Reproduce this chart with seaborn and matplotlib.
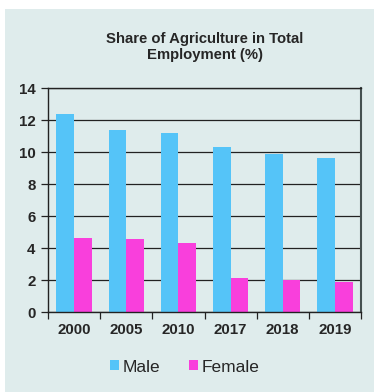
import matplotlib
matplotlib.use("Agg")
import matplotlib.pyplot as plt
import seaborn as sns
import pandas as pd
from matplotlib.patches import Rectangle
from matplotlib.ticker import FixedLocator

years = ["2000", "2005", "2010", "2017", "2018", "2019"]
male = [12.4, 11.4, 11.2, 10.3, 9.9, 9.6]
female = [4.65, 4.55, 4.3, 2.1, 2.0, 1.85]
series = ["Male", "Female"]
title = "Share of Agriculture in Total\nEmployment (%)"
yticks = [0, 2, 4, 6, 8, 10, 12, 14]

df = pd.DataFrame({
    "Year": years * 2,
    "Value": male + female,
    "Sex": [series[0]] * len(years) + [series[1]] * len(years),
})

sns.set_theme(style="white")
plt.rcParams['font.family'] = ['Liberation Sans', 'DejaVu Sans']

bg = "#DFECEC"
fig = plt.figure(figsize=(3.74, 3.92), dpi=100)
fig.patch.set_facecolor("white")
fig.patches.append(Rectangle((5 / 374, 0), 1, 1 - 9 / 392, transform=fig.transFigure,
                             facecolor=bg, edgecolor="none", zorder=-10))

ax = fig.add_axes([48 / 374, 1 - 312 / 392, (361 - 48) / 374, (312 - 88) / 392])
ax.set_facecolor(bg)

sns.barplot(data=df, x="Year", y="Value", hue="Sex", ax=ax,
            palette=["#55C4F8", "#F93FDC"], width=0.68, gap=0,
            edgecolor="none", linewidth=0, saturation=1)

ax.set_ylim(0, 14)
ax.set_yticks(yticks)
ax.set_yticklabels([str(t) for t in yticks], fontsize=10.8, fontweight="bold")
ax.set_xticks(range(len(years)))
ax.set_xticklabels(years, fontsize=10.8, fontweight="bold")
ax.set_xlabel("")
ax.set_ylabel("")
ax.yaxis.grid(True, color="#222222", linewidth=0.9)
ax.set_axisbelow(True)
for s in ax.spines.values():
    s.set_color("#222222")
    s.set_linewidth(1.0)
ax.spines["right"].set_color("#445050")
ax.spines["right"].set_linewidth(1.5)

ax.tick_params(axis="y", which="major", length=5, width=0.9, color="#222222", pad=4, left=True)
ax.tick_params(axis="x", which="major", length=0, pad=8)
ax.xaxis.set_minor_locator(FixedLocator([i - 0.5 for i in range(len(years) + 1)]))
ax.tick_params(axis="x", which="minor", length=5, width=0.9, color="#222222", bottom=True)

ax.set_title(title, fontsize=10.7, fontweight="bold", pad=21, linespacing=1.15)

handles, labels = ax.get_legend_handles_labels()
ax.legend_.remove()
fig.legend(handles, labels, loc="center", bbox_to_anchor=(0.494, 1 - 367 / 392), ncol=2,
           frameon=False, fontsize=12.5, handlelength=0.52, handleheight=0.52,
           columnspacing=1.7, handletextpad=0.18)

fig.savefig("out.png", dpi=100, facecolor=fig.get_facecolor())
